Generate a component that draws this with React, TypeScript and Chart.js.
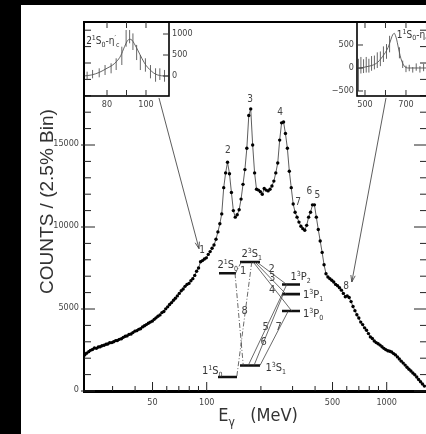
import React, { useEffect, useRef } from 'react';
import { Chart, registerables } from 'chart.js';
Chart.register(...registerables);

const NARROW = '"Liberation Sans Narrow", "DejaVu Sans Condensed", "Arial Narrow", sans-serif';
const SANS = '"Liberation Sans", Arial, Helvetica, sans-serif';

// ---------- main spectrum (2.5% bins) ----------
const spectrumE = [
  21.0, 21.5, 22.1, 22.6, 23.2, 23.8, 24.4, 25.0, 25.6, 26.2,
  26.9, 27.6, 28.2, 28.9, 29.7, 30.4, 31.2, 31.9, 32.7, 33.6,
  34.4, 35.3, 36.1, 37.0, 38.0, 38.9, 39.9, 40.9, 41.9, 42.9,
  44.0, 45.1, 46.2, 47.4, 48.6, 49.8, 51.1, 52.3, 53.6, 55.0,
  56.4, 57.8, 59.2, 60.7, 62.2, 63.8, 65.4, 67.0, 68.7, 70.4,
  72.2, 74.0, 75.8, 77.7, 79.7, 81.7, 83.7, 85.8, 87.9, 90.1,
  92.4, 94.7, 97.1, 99.5, 102, 104.5, 107.1, 109.8, 112.6, 115.4,
  118.3, 121.2, 124.3, 127.4, 130.5, 133.8, 137.2, 140.6, 144.1, 147.7,
  151.4, 155.2, 159.1, 163.0, 167.1, 171.3, 175.6, 180.0, 184.5, 189.1,
  193.8, 198.6, 203.6, 208.7, 213.9, 219.3, 224.8, 230.4, 236.1, 242.0,
  248.1, 254.3, 260.6, 267.2, 273.8, 280.7, 287.7, 294.9, 302.3, 309.8,
  317.6, 325.5, 333.7, 342.0, 350.6, 359.3, 368.3, 377.5, 387.0, 396.6,
  406.5, 416.7, 427.1, 437.8, 448.7, 460.0, 471.5, 483.2, 495.3, 507.7,
  520.4, 533.4, 546.7, 560.4, 574.4, 588.8, 603.5, 618.6, 634.0, 649.9,
  666.1, 682.8, 699.9, 717.4, 735.3, 753.7, 772.5, 791.8, 811.6, 831.9,
  852.7, 874.0, 895.9, 918.3, 941.2, 964.8, 988.9, 1014, 1039, 1065,
  1092, 1119, 1147, 1175, 1205, 1235, 1266, 1297, 1330, 1363,
  1397, 1432, 1468, 1504, 1542, 1580, 1620,
];
const spectrumCounts = [
  2200, 2300, 2400, 2480, 2530, 2620, 2600, 2680, 2700, 2760,
  2790, 2850, 2870, 2940, 2950, 3000, 3070, 3080, 3150, 3190,
  3270, 3340, 3360, 3450, 3480, 3560, 3650, 3680, 3760, 3800,
  3910, 3980, 4050, 4130, 4200, 4260, 4370, 4460, 4560, 4640,
  4780, 4850, 5010, 5130, 5270, 5390, 5530, 5660, 5800, 5950,
  6110, 6220, 6380, 6500, 6560, 6720, 6850, 7050, 7300, 7500,
  7880, 7950, 8050, 8120, 8330, 8500, 8700, 8900, 9250, 9700,
  10200, 10800, 12400, 13300, 13950, 13250, 12100, 11000, 10600, 10750,
  11050, 11700, 12600, 13500, 14800, 16800, 17200, 15000, 13300, 12300,
  12250, 12150, 12000, 12350, 12250, 12200, 12300, 12500, 12800, 13300,
  13900, 15300, 16350, 16400, 15700, 14800, 13400, 12400, 11400, 10900,
  10600, 10300, 10050, 9900, 9800, 10100, 10600, 10900, 11350, 11350,
  10600, 9850, 9150, 8450, 7700, 7150, 6950, 6850, 6750, 6650,
  6500, 6420, 6300, 6150, 5950, 5750, 5800, 5700, 5450, 5150,
  4900, 4650, 4450, 4200, 4050, 3850, 3700, 3500, 3300, 3200,
  3050, 2950, 2880, 2800, 2700, 2600, 2520, 2450, 2420, 2380,
  2280, 2200, 2080, 1950, 1820, 1700, 1580, 1450, 1330, 1220,
  1100, 990, 850, 700, 560, 430, 300,
];

// axis ticks
const xMajorTicks = [50, 100, 500, 1000];
const xMinorTicks = [30, 40, 60, 70, 80, 90, 200, 300, 400, 600, 700, 800, 900];
const yMajorTicks = [0, 5000, 10000, 15000];
const yMinorTicks = [1000, 2000, 3000, 4000, 6000, 7000, 8000, 9000, 11000, 12000, 13000, 14000, 16000, 17000, 18000, 19000, 20000, 21000, 22000];

// peak labels (position in data space)
const peakLabels = ['1', '2', '3', '4', '7', '6', '5', '8'];
const peakLabelE = [94.2, 130.9, 174.0, 255.5, 321.6, 371.6, 411.5, 594];
const peakLabelCounts = [8600, 14700, 17750, 16980, 11470, 12160, 11910, 6360];

// arrows from insets to lines 1 and 8
const arrowFromE = [54.3, 991];
const arrowFromCounts = [17870, 17870];
const arrowToE = [90.6, 640];
const arrowToCounts = [8680, 6650];

// ---------- left inset: 2^1S0 - eta_c' ----------
const leftCurveE = [68, 72, 76, 80, 83, 85, 87, 89, 90.5, 91.6, 92.8, 94, 96, 98, 100, 102, 104, 106, 108, 110, 112];
const leftCurveV = [0, 25, 85, 185, 265, 350, 480, 700, 840, 875, 855, 770, 595, 410, 255, 150, 70, 25, 5, 0, 0];
const leftBarsE = [69.8, 72.6, 76.0, 79.0, 82.1, 84.7, 87.6, 89.8, 91.6, 93.3, 95.2, 97.1, 99.7, 102.3, 104.9, 107.1, 109.5];
const leftBarsV = [3, 44, 76, 143, 183, 282, 480, 896, 937, 817, 560, 321, 262, 103, 24, 44, 4];
const leftBarsErr = [100, 100, 107, 119, 119, 139, 218, 199, 158, 198, 180, 179, 159, 158, 160, 139, 140];
const leftXTicks = [80, 90, 100];
const leftXLabels = [80, 100];
const leftYTicks = [1000, 500, 0];

// ---------- right inset: 1^1S0 - eta_c ----------
const rightCurveE = [462, 480, 500, 520, 540, 555, 570, 585, 600, 612, 622, 632, 638, 643, 649, 655, 661, 667, 675, 684, 692, 700, 715, 760, 870];
const rightCurveV = [-10, 0, 20, 40, 65, 100, 160, 245, 340, 440, 560, 690, 740, 755, 700, 610, 480, 355, 210, 100, 40, 8, 0, 0, 0];
const rightBarsE = [468, 480, 493, 506, 519, 532, 546, 560, 575, 590, 605, 620, 668, 684, 700, 716, 733, 750, 768, 786];
const rightBarsV = [-150, 60, 40, 70, 50, 100, 120, 170, 200, 300, 360, 520, 330, 80, -20, 0, -40, 20, -30, 10];
const rightBarsErr = [350, 180, 150, 170, 150, 160, 150, 170, 160, 170, 160, 180, 120, 80, 70, 70, 60, 80, 70, 80];
const rightXTicks = [500, 600, 700, 800];
const rightXLabels = [500, 700];
const rightYTicks = [500, 0, -500];

// ---------- level diagram (schematic heights) ----------
const levelNames = ['1^1S_0', '1^3S_1', '1^3P_0', '1^3P_1', '1^3P_2', '2^1S_0', '2^3S_1'];
const levelHeights = [2984, 3054, 3385, 3488, 3546, 3615, 3683];
const levelX0 = [14.4, 32, 65.6, 65.6, 65.6, 15.2, 32];
const levelX1 = [29.6, 48, 80, 80, 80, 28.8, 48];
const levelLabelX = [1.6, 52.4, 82.4, 82.4, 72.4, 14.0, 33.2];
const levelLabelY = [3002, 3020, 3349, 3464, 3574, 3647, 3714];

// transitions: from level, x ; to level, x ; dashed?
const transFrom = [6, 6, 5, 6, 6, 6, 4, 3, 2];
const transFromX = [33, 41.4, 28, 45.4, 44, 42.6, 69.4, 66.6, 70.6];
const transTo = [5, 0, 1, 4, 3, 2, 1, 1, 1];
const transToX = [28.4, 29.4, 34.6, 69.4, 68.8, 73.4, 38.6, 43.2, 48];
const transDashed = [true, true, true, false, false, false, false, false, false];
const transLabels = ['1', '2', '3', '4', '5', '6', '7', '8'];
const transLabelX = [34.6, 57.4, 57.8, 57.8, 52.6, 51, 63, 35.8];
const transLabelY = [3630, 3642, 3582, 3511, 3288, 3197, 3288, 3385];

// ---------- helpers ----------
function drawRich(ctx, text, x, y, size, align = 'left', color = '#333', family = NARROW) {
  const parts = [];
  for (let i = 0; i < text.length; i++) {
    const c = text[i];
    if ((c === '^' || c === '_') && i + 1 < text.length) {
      parts.push({ t: text[i + 1], k: c });
      i++;
    } else parts.push({ t: c, k: '' });
  }
  const small = Math.round(size * 0.68);
  const font = (p) => `${p.k ? small : size}px ${family}`;
  let w = 0;
  for (const p of parts) {
    ctx.font = font(p);
    p.w = ctx.measureText(p.t).width;
    w += p.w;
  }
  let cx = align === 'center' ? x - w / 2 : align === 'right' ? x - w : x;
  ctx.save();
  ctx.fillStyle = color;
  ctx.textAlign = 'left';
  ctx.textBaseline = 'alphabetic';
  for (const p of parts) {
    ctx.font = font(p);
    const dy = p.k === '^' ? -size * 0.4 : p.k === '_' ? size * 0.25 : 0;
    ctx.fillText(p.t, cx, y + dy);
    cx += p.w;
  }
  ctx.restore();
}

function line(ctx, x0, y0, x1, y1) {
  ctx.beginPath();
  ctx.moveTo(x0, y0);
  ctx.lineTo(x1, y1);
  ctx.stroke();
}

function arrowHead(ctx, x0, y0, x1, y1, len) {
  const ang = Math.atan2(y1 - y0, x1 - x0);
  for (const s of [-1, 1]) {
    const a = ang + Math.PI + s * 0.32;
    line(ctx, x1, y1, x1 + len * Math.cos(a), y1 + len * Math.sin(a));
  }
}

function segments(xs0, ys0, xs1, ys1) {
  const out = [];
  for (let i = 0; i < xs0.length; i++) {
    out.push({ x: xs0[i], y: ys0[i] }, { x: xs1[i], y: ys1[i] }, { x: xs1[i], y: null });
  }
  return out;
}

function errorBarData(E, V, Err) {
  return segments(E, V.map((v, i) => v - Err[i]), E, V.map((v, i) => v + Err[i]));
}

const W = 440;
const H = 434;

const baseOptions = (padding, xScale, yScale) => ({
  responsive: false,
  animation: false,
  devicePixelRatio: 1,
  events: [],
  layout: { padding },
  plugins: { legend: { display: false }, tooltip: { enabled: false }, title: { display: false } },
  scales: { x: { display: false, ...xScale }, y: { display: false, ...yScale } },
});

// ---------- main chart ----------
const mainPlugin = {
  id: 'mainDeco',
  afterDatasetsDraw(chart) {
    const { ctx, chartArea: a } = chart;
    const xs = chart.scales.x;
    const ys = chart.scales.y;
    ctx.save();
    ctx.strokeStyle = '#000';
    ctx.lineWidth = 2;
    line(ctx, a.left - 1, a.top, a.right + 2, a.top);
    line(ctx, a.left, a.top, a.left, a.bottom);
    line(ctx, a.right, a.top, a.right, a.bottom);
    ctx.lineWidth = 3;
    line(ctx, a.left - 1, a.bottom + 0.5, a.right + 2, a.bottom + 0.5);
    ctx.lineWidth = 1;
    ctx.strokeStyle = '#222';
    for (const v of yMajorTicks) {
      const p = ys.getPixelForValue(v);
      line(ctx, a.left - 3, p, a.left + 11, p);
      line(ctx, a.right - 14, p, a.right, p);
    }
    for (const v of yMinorTicks) {
      const p = ys.getPixelForValue(v);
      line(ctx, a.left, p, a.left + 7, p);
      line(ctx, a.right - 8, p, a.right, p);
    }
    for (const v of xMajorTicks) {
      const p = xs.getPixelForValue(v);
      line(ctx, p, a.bottom, p, a.bottom - 9);
    }
    for (const v of xMinorTicks) {
      const p = xs.getPixelForValue(v);
      line(ctx, p, a.bottom, p, a.bottom - 5);
    }
    ctx.fillStyle = '#444';
    ctx.font = `9px ${NARROW}`;
    ctx.textAlign = 'right';
    ctx.textBaseline = 'middle';
    for (const v of yMajorTicks) ctx.fillText(String(v), a.left - 5, ys.getPixelForValue(v) - 1);
    ctx.textAlign = 'center';
    for (const v of xMajorTicks) ctx.fillText(String(v), xs.getPixelForValue(v), a.bottom + 12);

    // axis titles
    ctx.save();
    ctx.translate(48, (a.top + a.bottom) / 2 - 5);
    ctx.rotate(-Math.PI / 2);
    ctx.font = `19px ${SANS}`;
    ctx.fillStyle = '#333';
    ctx.textAlign = 'center';
    ctx.textBaseline = 'middle';
    ctx.fillText('COUNTS / (2.5% Bin)', 0, 0);
    ctx.restore();
    drawRich(ctx, 'E_γ   (MeV)', (a.left + a.right) / 2 + 2, a.bottom + 30, 18, 'center', '#333', NARROW);

    // peak labels
    ctx.font = `10px ${NARROW}`;
    ctx.fillStyle = '#444';
    ctx.textAlign = 'center';
    ctx.textBaseline = 'middle';
    peakLabels.forEach((t, i) => {
      ctx.fillText(t, xs.getPixelForValue(peakLabelE[i]), ys.getPixelForValue(peakLabelCounts[i]));
    });

    // arrows
    ctx.strokeStyle = '#333';
    ctx.lineWidth = 0.8;
    arrowFromE.forEach((e, i) => {
      const x0 = xs.getPixelForValue(e);
      const y0 = ys.getPixelForValue(arrowFromCounts[i]);
      const x1 = xs.getPixelForValue(arrowToE[i]);
      const y1 = ys.getPixelForValue(arrowToCounts[i]);
      line(ctx, x0, y0, x1, y1);
      arrowHead(ctx, x0, y0, x1, y1, 7);
    });
    ctx.restore();
  },
};

function mainConfig() {
  return {
    type: 'scatter',
    data: {
      datasets: [
        {
          data: spectrumE.map((e, i) => ({ x: e, y: spectrumCounts[i] })),
          showLine: true,
          borderColor: '#333',
          borderWidth: 0.8,
          pointRadius: 1.7,
          pointBackgroundColor: '#000',
          pointBorderWidth: 0,
          tension: 0,
        },
      ],
    },
    options: baseOptions(
      { left: 84, top: 22, right: W - 428, bottom: H - 391 },
      { type: 'logarithmic', min: 20.81, max: 1696 },
      { type: 'linear', min: 0, max: 22500 }
    ),
    plugins: [mainPlugin],
  };
}

// ---------- inset charts ----------
function insetPlugin(id, xTicks, xLabels, yTicks, ySide, label, labelPos) {
  return {
    id,
    afterDatasetsDraw(chart) {
      const { ctx, chartArea: a } = chart;
      const xs = chart.scales.x;
      const ys = chart.scales.y;
      ctx.save();
      ctx.strokeStyle = '#000';
      ctx.lineWidth = 1.6;
      ctx.strokeRect(a.left, a.top, a.right - a.left, a.bottom - a.top);
      ctx.lineWidth = 1;
      ctx.strokeStyle = '#333';
      for (const v of xTicks) {
        const p = xs.getPixelForValue(v);
        line(ctx, p, a.bottom, p, a.bottom - 6);
        line(ctx, p, a.top, p, a.top + 6);
      }
      for (const v of yTicks) {
        const p = ys.getPixelForValue(v);
        if (ySide === 'right') line(ctx, a.right, p, a.right - 6, p);
        else line(ctx, a.left, p, a.left + 6, p);
      }
      ctx.fillStyle = '#444';
      ctx.font = `9px ${NARROW}`;
      ctx.textBaseline = 'middle';
      ctx.textAlign = 'center';
      for (const v of xLabels) ctx.fillText(String(v), xs.getPixelForValue(v), a.bottom + 9);
      ctx.textAlign = ySide === 'right' ? 'left' : 'right';
      for (const v of yTicks) {
        const t = v < 0 ? '\u2212' + String(-v) : String(v);
        ctx.fillText(t, ySide === 'right' ? a.right + 3 : a.left - 3, ys.getPixelForValue(v));
      }
      drawRich(ctx, label, xs.getPixelForValue(labelPos[0]), ys.getPixelForValue(labelPos[1]), 10, 'left', '#333');
      ctx.restore();
    },
  };
}

function insetConfig(curveE, curveV, barsE, barsV, barsErr, padding, xr, yr, plugin) {
  return {
    type: 'scatter',
    data: {
      datasets: [
        {
          data: curveE.map((e, i) => ({ x: e, y: curveV[i] })),
          showLine: true,
          borderColor: '#555',
          borderWidth: 0.9,
          pointRadius: 0,
          tension: 0.4,
          cubicInterpolationMode: 'monotone',
        },
        {
          data: errorBarData(barsE, barsV, barsErr),
          showLine: true,
          spanGaps: false,
          borderColor: '#555',
          borderWidth: 0.9,
          pointRadius: 0,
        },
      ],
    },
    options: baseOptions(padding, { type: 'linear', ...xr }, { type: 'linear', ...yr }),
    plugins: [plugin],
  };
}

// ---------- level diagram ----------
const diagramPlugin = {
  id: 'diagramLabels',
  afterDatasetsDraw(chart) {
    const { ctx } = chart;
    const xs = chart.scales.x;
    const ys = chart.scales.y;
    levelNames.forEach((n, i) => {
      drawRich(ctx, n, xs.getPixelForValue(levelLabelX[i]), ys.getPixelForValue(levelLabelY[i]), 11, 'left', '#333');
    });
    ctx.save();
    ctx.font = `11px ${NARROW}`;
    ctx.fillStyle = '#444';
    ctx.textAlign = 'center';
    ctx.textBaseline = 'middle';
    transLabels.forEach((t, i) => {
      ctx.fillText(t, xs.getPixelForValue(transLabelX[i]), ys.getPixelForValue(transLabelY[i]));
    });
    ctx.restore();
  },
};

function diagramConfig() {
  const idx = transFrom.map((_, i) => i);
  const solid = idx.filter((i) => !transDashed[i]);
  const dashed = idx.filter((i) => transDashed[i]);
  const tr = (list) =>
    segments(
      list.map((i) => transFromX[i]),
      list.map((i) => levelHeights[transFrom[i]]),
      list.map((i) => transToX[i]),
      list.map((i) => levelHeights[transTo[i]])
    );
  return {
    type: 'scatter',
    data: {
      datasets: [
        {
          data: tr(solid),
          showLine: true,
          spanGaps: false,
          borderColor: '#444',
          borderWidth: 0.8,
          pointRadius: 0,
        },
        {
          data: tr(dashed),
          showLine: true,
          spanGaps: false,
          borderColor: '#444',
          borderWidth: 0.8,
          borderDash: [5, 2, 1, 2],
          pointRadius: 0,
        },
        {
          data: segments(levelX0, levelHeights, levelX1, levelHeights),
          showLine: true,
          spanGaps: false,
          borderColor: '#111',
          borderWidth: 2.6,
          pointRadius: 0,
        },
      ],
    },
    options: {
      ...baseOptions({ left: 200, top: 240, right: W - 325, bottom: H - 385 }, { type: 'linear', min: 0, max: 100 }, { type: 'linear', min: 2935, max: 3817 }),
    },
    plugins: [diagramPlugin],
  };
}

export default function App() {
  const mainRef = useRef(null);
  const leftRef = useRef(null);
  const rightRef = useRef(null);
  const diagRef = useRef(null);

  useEffect(() => {
    const charts = [
      new Chart(mainRef.current, mainConfig()),
      new Chart(
        leftRef.current,
        insetConfig(
          leftCurveE, leftCurveV, leftBarsE, leftBarsV, leftBarsErr,
          { left: 84, top: 22, right: W - 169, bottom: H - 96 },
          { min: 68.2, max: 111.8 },
          { min: -476, max: 1286 },
          insetPlugin('leftInset', leftXTicks, leftXLabels, leftYTicks, 'right', '2^1S_0-η^′_c', [69.3, 760])
        )
      ),
      new Chart(
        rightRef.current,
        insetConfig(
          rightCurveE, rightCurveV, rightBarsE, rightBarsV, rightBarsErr,
          { left: 357, top: 22, right: 0, bottom: H - 96 },
          { min: 461, max: 866 },
          { min: -609, max: 1000 },
          insetPlugin('rightInset', rightXTicks, rightXLabels, rightYTicks, 'left', '1^1S_0-η_c', [655, 660])
        )
      ),
      new Chart(diagRef.current, diagramConfig()),
    ];
    return () => charts.forEach((c) => c.destroy());
  }, []);

  const cv = { position: 'absolute', left: 0, top: 0, width: W, height: H };
  return (
    <div style={{ position: 'absolute', left: 0, top: 0, width: 426, height: 434, overflow: 'hidden', background: '#000' }}>
      <div style={{ position: 'absolute', left: 21, top: 5, width: 420, height: 440, background: '#fff' }} />
      <canvas ref={mainRef} width={W} height={H} style={cv} />
      <canvas ref={leftRef} width={W} height={H} style={cv} />
      <canvas ref={rightRef} width={W} height={H} style={cv} />
      <canvas ref={diagRef} width={W} height={H} style={cv} />
    </div>
  );
}
